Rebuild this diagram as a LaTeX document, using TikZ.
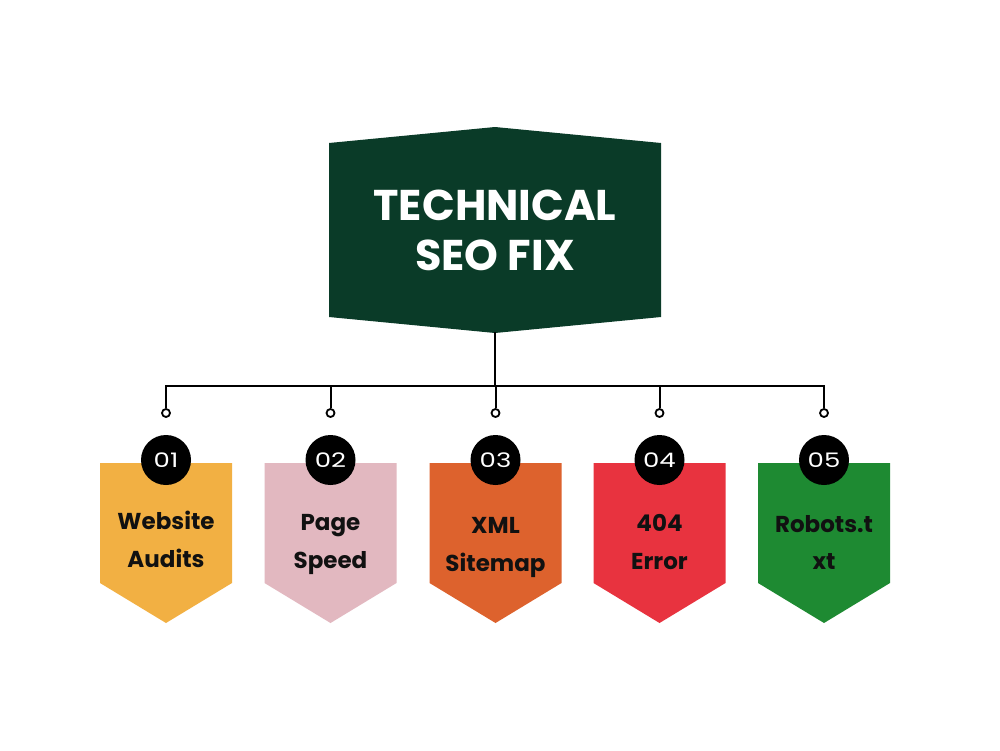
\documentclass[tikz,border=0pt]{standalone}
\usepackage{fontspec}
\setmainfont{Poppins}
\newfontfamily\titlefont{Poppins}[UprightFont=* Bold]
\newfontfamily\numfont{Poppins}[FakeStretch=1.3]
\definecolor{dkgreen}{HTML}{0A3B28}
\definecolor{cA}{HTML}{F2B043}
\definecolor{cB}{HTML}{E2B8C0}
\definecolor{cC}{HTML}{DD622D}
\definecolor{cD}{HTML}{E8333F}
\definecolor{cE}{HTML}{1E8A32}
\definecolor{ink}{HTML}{111111}
\tikzset{
  titletext/.style={anchor=base, text=white, inner sep=0pt, font=\titlefont\fontsize{43}{50}\selectfont},
  boxtext/.style={anchor=base, text=ink, inner sep=0pt, font=\titlefont\fontsize{23}{28}\selectfont},
  numcirc/.style={circle, fill=black, minimum size=50pt, inner sep=0pt, text=white, font=\numfont\fontsize{20}{20}\selectfont},
  conn/.style={draw=black, line width=2pt},
  dot/.style={circle, draw=black, line width=1.8pt, fill=white, minimum size=8pt, inner sep=0pt},
}
\begin{document}
\begin{tikzpicture}[x=1pt,y=-1pt]
\useasboundingbox (0,0) rectangle (1000,750);
\fill[white] (0,0) rectangle (1000,750);
% title shape
\fill[dkgreen] (329,143) -- (495,127) -- (661,143) -- (661,317) -- (495,333) -- (329,317) -- cycle;
\node[titletext] (title1) at (495,220) {TECHNICAL};
\node[titletext] (title2) at (495,270) {SEO FIX};
\coordinate (hub) at (495,332);
\coordinate (bus) at (495,386);
% boxes
\foreach \i/\cx/\col/\num/\la/\lb/\ya/\yb in {
  1/166/cA/01/Website/Audits/529/567,
  2/330.5/cB/02/Page/Speed/530/568,
  3/495.5/cC/03/XML/Sitemap/533/571,
  4/659.5/cD/04/404/Error/531/569,
  5/824/cE/05/Robots.t/xt/532/569}{
  \fill[\col] (\cx-66,463) -- (\cx+66,463) -- (\cx+66,583) -- (\cx,623) -- (\cx-66,583) -- cycle;
  \node[numcirc] (n\i) at (\cx,460) {\num};
  \node[boxtext] (ta\i) at (\cx,\ya) {\la};
  \node[boxtext] (tb\i) at (\cx,\yb) {\lb};
  \coordinate (b\i) at (\cx,386);
  \node[dot] (d\i) at (\cx,413) {};
}
% connectors
\draw[conn] (hub) -- (bus);
\draw[conn, line cap=rect] (b1) -- (b5);
\foreach \i in {1,...,5}{
  \draw[conn] (b\i) -- (d\i.north);
}
\end{tikzpicture}
\end{document}
